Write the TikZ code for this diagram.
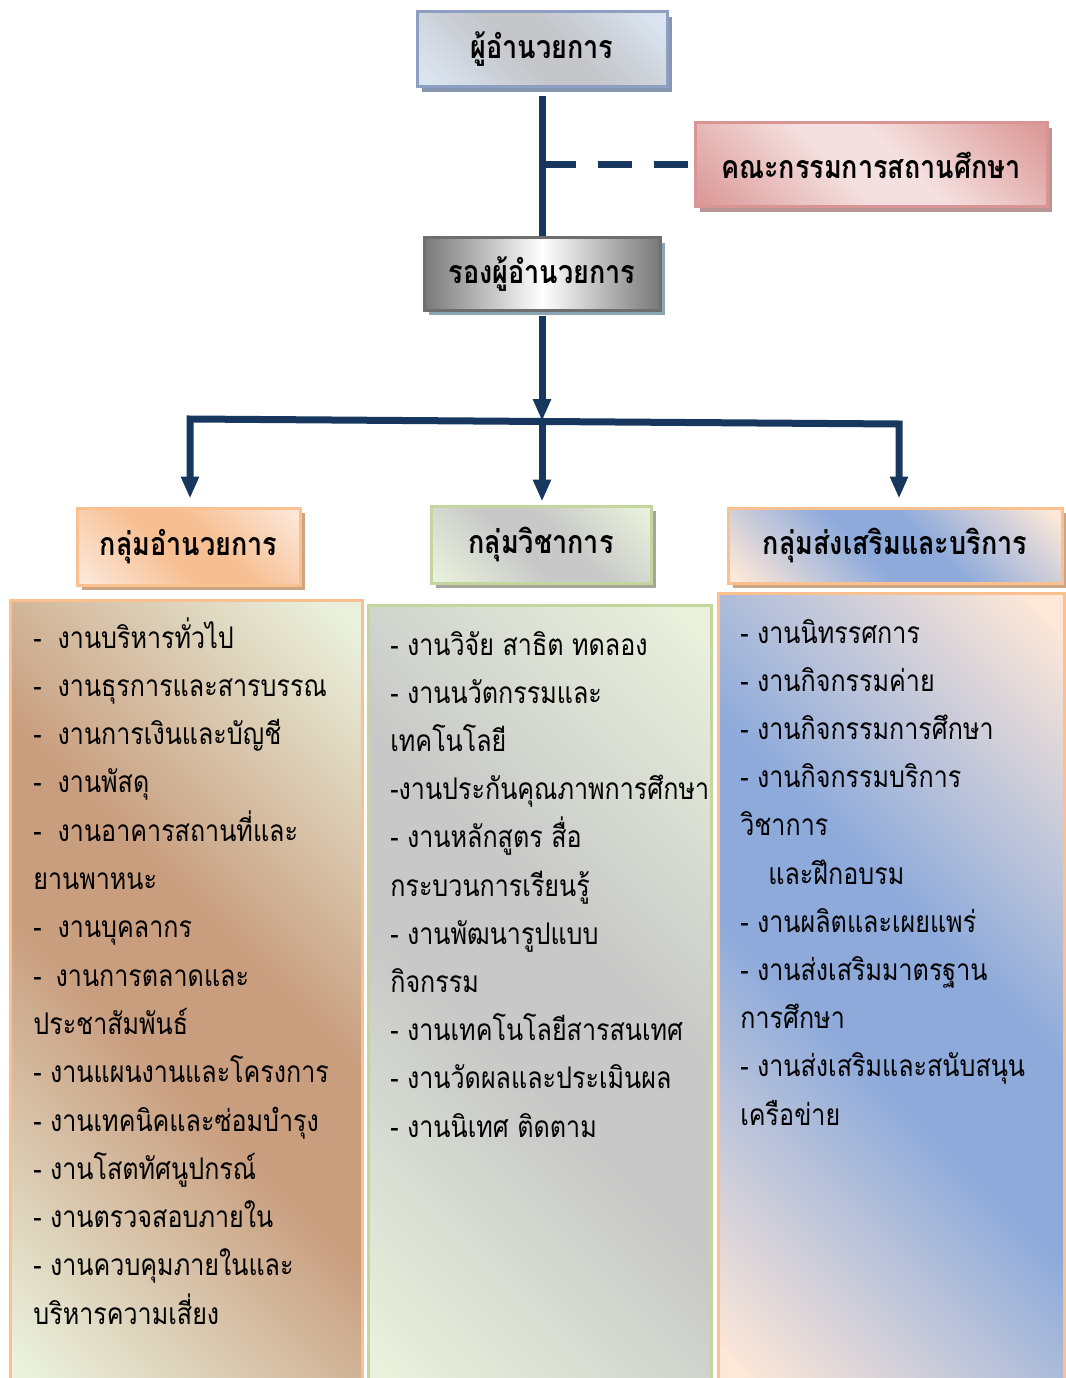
\documentclass[tikz,border=0pt]{standalone}
\usepackage{fontspec}
\setmainfont[Script=Thai,FakeStretch=0.84]{Loma}
\usetikzlibrary{arrows.meta,shadows}

\newlength\pxu
\setlength\pxu{0.02cm}

\definecolor{navy}{RGB}{23,55,94}
\definecolor{dirline}{RGB}{141,160,196}
\definecolor{dirblue}{RGB}{219,229,241}
\definecolor{dirgray}{RGB}{196,198,202}
\definecolor{dirshadow}{RGB}{135,150,175}
\definecolor{pinkline}{RGB}{217,149,148}
\definecolor{pinkdark}{RGB}{220,155,154}
\definecolor{pinklight}{RGB}{244,224,223}
\definecolor{pinkshadow}{RGB}{185,150,150}
\definecolor{depline}{RGB}{110,110,110}
\definecolor{depgray}{RGB}{120,120,120}
\definecolor{depshadow}{RGB}{140,165,180}
\definecolor{orangeline}{RGB}{250,192,143}
\definecolor{orangeband}{RGB}{247,190,145}
\definecolor{peach}{RGB}{252,231,216}
\definecolor{tanshadow}{RGB}{205,165,130}
\definecolor{greenline}{RGB}{195,214,155}
\definecolor{lightgray}{RGB}{200,200,200}
\definecolor{palegreen}{RGB}{233,240,220}
\definecolor{grayshadow}{RGB}{165,165,155}
\definecolor{blueband}{RGB}{141,170,219}
\definecolor{brownband}{RGB}{201,158,127}

% two tones across the diagonal
\colorlet{tone}{white}
\colorlet{band}{gray}
\pgfdeclarehorizontalshading[tone,band]{diagband}{100bp}{color(0bp)=(tone); color(17bp)=(tone); color(44bp)=(band); color(56bp)=(band); color(83bp)=(tone); color(100bp)=(tone)}

\tikzset{
  tint/.style 2 args={/utils/exec={\colorlet{tone}{#1}\colorlet{band}{#2}},shade,shading=diagband,shading angle=45},
  panel/.style={draw=#1,line width=3\pxu,inner sep=0pt},
  shadowed/.style={drop shadow={shadow xshift=5\pxu,shadow yshift=-5\pxu,fill=#1,opacity=1}},
  headbox/.style={font=\bfseries\fontsize{18.3}{22}\selectfont},
  item/.style={anchor=base west,inner sep=0pt,font=\fontsize{17}{20}\selectfont},
  link/.style={draw=navy,line width=7\pxu},
  arrowed/.style={-{Triangle[length=0.44cm,width=0.34cm]}},
}

\begin{document}
\begin{tikzpicture}[x=0.02cm,y=-0.02cm]
\useasboundingbox (0,0) rectangle (1065,1378);

% top of the chart
\node[panel=dirline,tint={dirblue}{dirgray},shadowed=dirshadow,headbox,minimum width=250\pxu,minimum height=75\pxu] (dir) at (542,49.5) {ผู้อำนวยการ};
\node[panel=pinkline,tint={pinkdark}{pinklight},shadowed=pinkshadow,headbox,minimum width=352\pxu,minimum height=84\pxu] (board) at (871,165) {คณะกรรมการสถานศึกษา};
\node[panel=depline,left color=depgray,right color=depgray,middle color=white,shadowed=depshadow,headbox,minimum width=236\pxu,minimum height=72\pxu] (deputy) at (542,274) {รองผู้อำนวยการ};

% three groups
\node[panel=orangeline,tint={peach}{orangeband},shadowed=tanshadow,headbox,minimum width=223\pxu,minimum height=77\pxu] (admin) at (188.5,546.5) {กลุ่มอำนวยการ};
\node[panel=greenline,tint={palegreen}{lightgray},shadowed=grayshadow,headbox,minimum width=220\pxu,minimum height=77\pxu] (acad) at (541,544.5) {กลุ่มวิชาการ};
\node[panel=orangeline,tint={peach}{blueband},shadowed=tanshadow,headbox,minimum width=334\pxu,minimum height=75\pxu] (serv) at (895,545.5) {กลุ่มส่งเสริมและบริการ};

% connectors
\coordinate (tee) at (542,165);
\coordinate (busM) at (542,421);
\coordinate (busL) at (190,419);
\coordinate (busR) at (899,424);
\draw[link,shorten <=0.16cm] (dir.south) -- (deputy.north);
\draw[link,dash pattern=on 0.68cm off 0.44cm] (tee) -- (board.west);
\draw[link,arrowed,shorten <=0.1cm] (deputy.south) -- (busM);
\draw[link,{Triangle[length=0.44cm,width=0.34cm]}-{Triangle[length=0.44cm,width=0.34cm]},shorten <=0.16cm,shorten >=0.16cm] (busL |- admin.north) -- (busL) -- (busR) -- (busR |- serv.north);
\draw[link,arrowed,shorten >=0.06cm] (busM) -- (busM |- acad.north);

% work lists
\node[panel=orangeline,tint={palegreen}{brownband},minimum width=352\pxu,minimum height=790\pxu] (adminlist) at (186,995) {};
\node[panel=greenline,tint={palegreen}{lightgray},minimum width=343\pxu,minimum height=785\pxu] (acadlist) at (539.5,997.5) {};
\node[panel=orangeline,tint={peach}{blueband},minimum width=346\pxu,minimum height=797\pxu] (servlist) at (891,991.5) {};

\foreach \txt [count=\i from 0] in {-\hspace{16\pxu}งานบริหารทั่วไป,-\hspace{16\pxu}งานธุรการและสารบรรณ,-\hspace{16\pxu}งานการเงินและบัญชี,-\hspace{16\pxu}งานพัสดุ,-\hspace{16\pxu}งานอาคารสถานที่และ,ยานพาหนะ,-\hspace{16\pxu}งานบุคลากร,-\hspace{14\pxu}งานการตลาดและ,ประชาสัมพันธ์,- งานแผนงานและโครงการ,- งานเทคนิคและซ่อมบำรุง,- งานโสตทัศนูปกรณ์,- งานตรวจสอบภายใน,- งานควบคุมภายในและ,บริหารความเสี่ยง}
  \node[item] (adm\i) at (33,648+48.3*\i) {\txt};

\foreach \txt [count=\i from 0] in {- งานวิจัย สาธิต ทดลอง,- งานนวัตกรรมและ,เทคโนโลยี,-งานประกันคุณภาพการศึกษา,- งานหลักสูตร สื่อ,กระบวนการเรียนรู้,- งานพัฒนารูปแบบ,กิจกรรม,- งานเทคโนโลยีสารสนเทศ,- งานวัดผลและประเมินผล,- งานนิเทศ ติดตาม}
  \node[item] (aca\i) at (390,655+48.2*\i) {\txt};

\foreach \txt [count=\i from 0] in {- งานนิทรรศการ,- งานกิจกรรมค่าย,- งานกิจกรรมการศึกษา,- งานกิจกรรมบริการ,วิชาการ,\hspace{28\pxu}และฝึกอบรม,- งานผลิตและเผยแพร่,- งานส่งเสริมมาตรฐาน,การศึกษา,- งานส่งเสริมและสนับสนุน,เครือข่าย}
  \node[item] (srv\i) at (740,643+48.2*\i) {\txt};
\end{tikzpicture}
\end{document}
